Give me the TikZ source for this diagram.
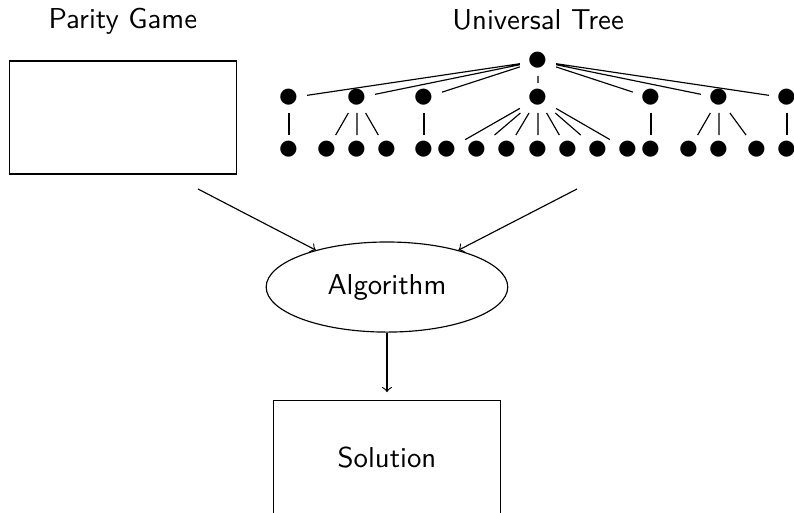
\documentclass[tikz,border=0pt]{standalone}
\usepackage{amsmath}
\usepackage{amssymb}
\usepackage{tikz}
\usetikzlibrary{shapes.geometric}

\begin{document}
\begin{tikzpicture}[font=\sffamily,
  box/.style={draw, minimum width=2.78cm, minimum height=1.38cm},
  dot/.style={font=\Large, inner xsep=2.5pt, inner ysep=1.8pt}]
\useasboundingbox (0,0) rectangle (9.695,6.264);

\node [inner sep=1pt] (pg) at (1.50,6.0) {Parity Game};
\node [inner sep=1pt, text depth=0pt] (ut) at (6.57,6.02) {Universal Tree};
\node [box] (game) at (1.502,4.829) {};

% the tree
\node [dot] (t) at (6.569,5.519) {$\bullet$};
\node [dot] (u1) at (3.529,5.067) {$\bullet$};
\node [dot] (u2) at (4.359,5.067) {$\bullet$};
\node [dot] (u3) at (5.177,5.067) {$\bullet$};
\node [dot] (u4) at (6.569,5.067) {$\bullet$};
\node [dot] (u5) at (7.949,5.067) {$\bullet$};
\node [dot] (u6) at (8.779,5.067) {$\bullet$};
\node [dot] (u7) at (9.609,5.067) {$\bullet$};
\node [dot] (v1) at (3.529,4.432) {$\bullet$};
\node [dot] (v2) at (3.993,4.432) {$\bullet$};
\node [dot] (v3) at (4.359,4.432) {$\bullet$};
\node [dot] (v4) at (4.725,4.432) {$\bullet$};
\node [dot] (v5) at (5.177,4.432) {$\bullet$};
\node [dot] (v6) at (5.458,4.432) {$\bullet$};
\node [dot] (v7) at (5.824,4.432) {$\bullet$};
\node [dot] (v8) at (6.190,4.432) {$\bullet$};
\node [dot] (v9) at (6.569,4.432) {$\bullet$};
\node [dot] (v10) at (6.935,4.432) {$\bullet$};
\node [dot] (v11) at (7.302,4.432) {$\bullet$};
\node [dot] (v12) at (7.668,4.432) {$\bullet$};
\node [dot] (v13) at (7.949,4.432) {$\bullet$};
\node [dot] (v14) at (8.413,4.432) {$\bullet$};
\node [dot] (v15) at (8.779,4.432) {$\bullet$};
\node [dot] (v16) at (9.243,4.432) {$\bullet$};
\node [dot] (v17) at (9.609,4.432) {$\bullet$};
\draw (t) -- (u1) (t) -- (u2) (t) -- (u3) (t) -- (u4) (t) -- (u5) (t) -- (u6) (t) -- (u7);
\draw (u1) -- (v1);
\draw (u2) -- (v2) (u2) -- (v3) (u2) -- (v4);
\draw (u3) -- (v5);
\draw (u4) -- (v6) (u4) -- (v7) (u4) -- (v8) (u4) -- (v9) (u4) -- (v10) (u4) -- (v11) (u4) -- (v12);
\draw (u5) -- (v13);
\draw (u6) -- (v14) (u6) -- (v15) (u6) -- (v16);
\draw (u7) -- (v17);

\node [ellipse, draw, minimum width=2.95cm, minimum height=1.1cm, inner sep=0] (alg) at (4.725,2.759) {Algorithm};
\node [box] (sol) at (4.725,0.68) {Solution};

\coordinate (ing) at (2.418,3.956);
\coordinate (intree) at (7.045,3.956);
\draw [->] (ing) -- (alg);
\draw [->] (intree) -- (alg);
\draw [->, shorten >=2.8pt] (alg) -- (sol);
\end{tikzpicture}
\end{document}
